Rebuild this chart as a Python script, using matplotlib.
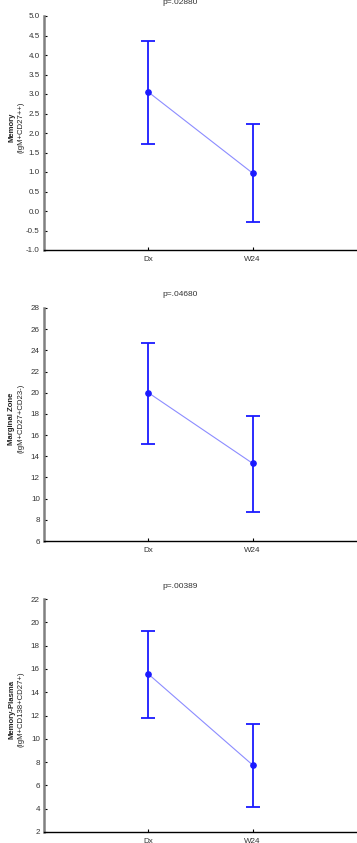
import matplotlib
matplotlib.use("Agg")
import matplotlib.pyplot as plt

plt.rcParams['font.family'] = ['Liberation Sans', 'DejaVu Sans']

categories = ["Dx", "W24"]

titles = ["p=.02880", "p=.04680", "p=.00389"]
ylabels_main = ["Memory", "Marginal Zone", "Memory-Plasma"]
ylabels_sub = ["(IgM+CD27++)", "(IgM+CD27+CD23-)", "(IgM+CD138+CD27+)"]

mem_mean = [3.05, 0.97]
mem_low = [1.72, -0.28]
mem_high = [4.37, 2.22]

mz_mean = [20.0, 13.33]
mz_low = [15.16, 8.74]
mz_high = [24.66, 17.8]

mp_mean = [15.56, 7.75]
mp_low = [11.81, 4.15]
mp_high = [19.28, 11.27]

ylims = [(-1.0, 5.0), (6, 28), (2, 22)]
yticks = [
    [-1.0, -0.5, 0.0, 0.5, 1.0, 1.5, 2.0, 2.5, 3.0, 3.5, 4.0, 4.5, 5.0],
    [6, 8, 10, 12, 14, 16, 18, 20, 22, 24, 26, 28],
    [2, 4, 6, 8, 10, 12, 14, 16, 18, 20, 22],
]
ytick_fmt = ["{:.1f}", "{:d}", "{:d}"]

series = [(mem_mean, mem_low, mem_high), (mz_mean, mz_low, mz_high), (mp_mean, mp_low, mp_high)]

W, H = 357, 843
fig = plt.figure(figsize=(W / 100, H / 100), dpi=100)

tops = [16, 308, 599]
bottoms = [250, 541, 832]
left_px = 44

x = [1, 2]
for i in range(3):
    t, b = tops[i], bottoms[i]
    ax = fig.add_axes([left_px / W, 1 - b / H, 1 - left_px / W, (b - t) / H])
    mean, low, high = series[i]
    yerr = [[m - l for m, l in zip(mean, low)], [h - m for m, h in zip(mean, high)]]
    ax.plot(x, mean, color='#8c8cff', lw=0.8, zorder=2)
    ax.errorbar(x, mean, yerr=yerr, fmt='o', color='#1a1aff', ecolor='#1a1aff',
                elinewidth=1.3, capsize=5, capthick=1.3, markersize=3.8, zorder=3)
    ax.set_xlim(0, 3)
    ax.set_ylim(*ylims[i])
    ax.set_xticks(x)
    ax.set_xticklabels(categories)
    ax.set_yticks(yticks[i])
    ax.set_yticklabels([ytick_fmt[i].format(v) for v in yticks[i]])
    for s in ['top', 'right']:
        ax.spines[s].set_visible(False)
    ax.spines['left'].set_color('#808080')
    ax.spines['left'].set_linewidth(1.8)
    ax.spines['bottom'].set_color('black')
    ax.spines['bottom'].set_linewidth(1.0)
    ax.tick_params(axis='both', direction='in', length=2, width=0.8,
                   labelsize=5.8, labelcolor='#333333', pad=3)
    ax.tick_params(axis='x', pad=4)
    fig.text(180 / W, 1 - (t - 13) / H, titles[i], ha='center', va='center',
             fontsize=6, color='#333333')
    yc = 1 - ((t + b) / 2 - 6) / H
    fig.text(12 / W, yc, ylabels_main[i], rotation=90, ha='center', va='center',
             fontsize=5.6, fontweight='bold', color='#222222')
    fig.text(21 / W, yc, ylabels_sub[i], rotation=90, ha='center', va='center',
             fontsize=5.6, color='#222222')

fig.savefig("out.png", dpi=100)
